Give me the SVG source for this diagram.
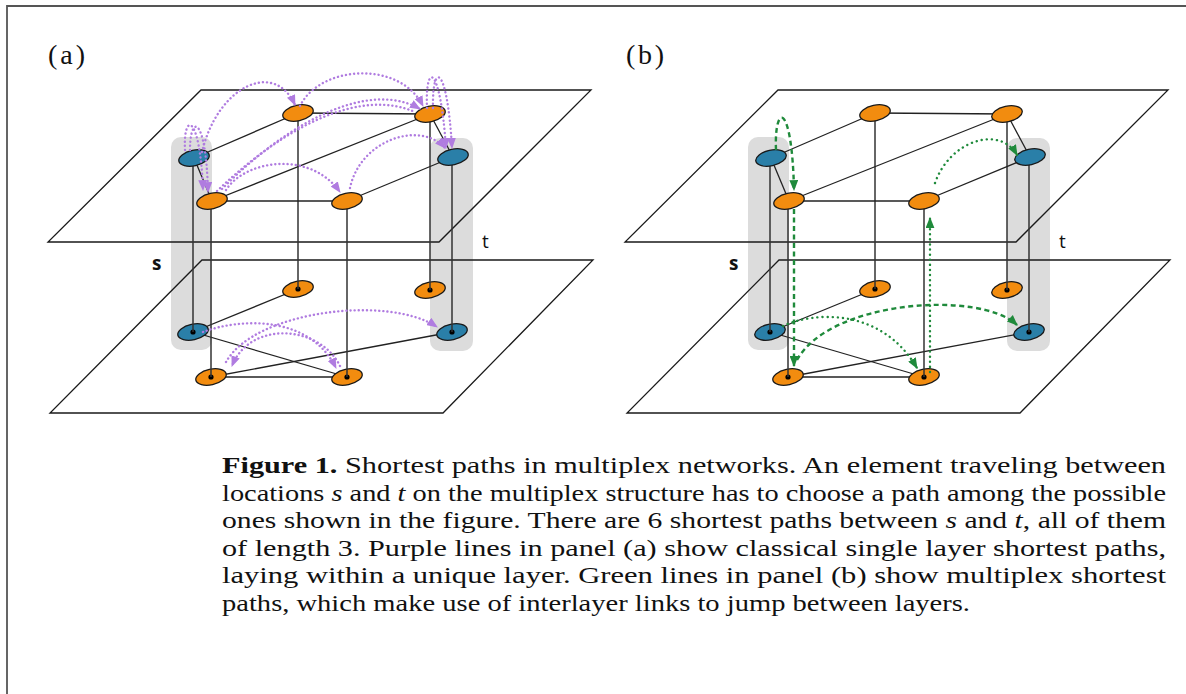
<svg xmlns="http://www.w3.org/2000/svg" width="1186" height="694" viewBox="0 0 1186 694">
<defs>
<style>
.plane{fill:none;stroke:#1a1a1a;stroke-width:1.3}
.col{fill:#dcdcdc;stroke:none}
.edge{stroke:#222;stroke-width:1.3;fill:none}
.vert{stroke:#333;stroke-width:1.5;fill:none}
.or{fill:#f28c0f;stroke:#1a1a1a;stroke-width:1.3}
.bl{fill:#2a7fa8;stroke:#1a1a1a;stroke-width:1.3}
.dot{fill:#000}
.pur{fill:none;stroke:#b07ce0;stroke-width:2.4;stroke-dasharray:0.1 4;stroke-linecap:round}
.gdash{fill:none;stroke:#1f8a3b;stroke-width:2.4;stroke-dasharray:5 3.5}
.gdot{fill:none;stroke:#1f8a3b;stroke-width:2.4;stroke-dasharray:0.1 5;stroke-linecap:round}
.lbl{font-family:"Open Sans","DejaVu Sans",sans-serif;font-size:19px;fill:#111}
.panel{font-family:"Liberation Serif","Times New Roman",serif;font-size:28px;fill:#111}
.cap{font-family:"Liberation Serif","Times New Roman",serif;font-size:24px;fill:#111}
</style>
<marker id="ap" viewBox="0 0 10 8" refX="9" refY="4" markerWidth="11" markerHeight="9" markerUnits="userSpaceOnUse" orient="auto">
<path d="M0,0 L10,4 L0,8 z" fill="#b07ce0"/>
</marker>
<marker id="ag" viewBox="0 0 10 8" refX="9" refY="4" markerWidth="11" markerHeight="9" markerUnits="userSpaceOnUse" orient="auto">
<path d="M0,0 L10,4 L0,8 z" fill="#1f8a3b"/>
</marker>
</defs>
<rect width="1186" height="694" fill="#fff"/>
<path d="M7,694 V6 H1186" fill="none" stroke="#555" stroke-width="1.8"/>

<text class="panel" x="48" y="64" textLength="37">(a)</text>
<text class="panel" x="626" y="64" textLength="38">(b)</text>

<!-- PANEL A -->
<g id="panel-a">
<g id="a-columns">
<rect class="col" x="171" y="137" width="41" height="213" rx="10"/>
<rect class="col" x="430" y="138" width="43" height="213" rx="10"/>
</g>
<g id="a-planes">
<polygon class="plane" points="201,90 591,90 439,242 48,242"/>
<polygon class="plane" points="202,260 593,260 443,413 50,413"/>
</g>
<text class="lbl" x="152" y="270" font-weight="bold">s</text>
<text class="lbl" x="482" y="248">t</text>
<g id="a-edges-bottom">
<line class="edge" x1="193" y1="332" x2="298" y2="289"/>
<line class="edge" x1="193" y1="332" x2="347" y2="377"/>
<line class="edge" x1="211" y1="377" x2="347" y2="377"/>
<line class="edge" x1="211" y1="377" x2="452" y2="332"/>
</g>
<g id="a-s-bot"><ellipse class="bl" cx="193" cy="332" rx="15.5" ry="7.8" transform="rotate(-12 193 332)"/><circle class="dot" cx="193" cy="332" r="2.6"/></g>
<g id="a-A-bot"><ellipse class="or" cx="211" cy="377" rx="15.5" ry="7.8" transform="rotate(-12 211 377)"/><circle class="dot" cx="211" cy="377" r="2.6"/></g>
<g id="a-B-bot"><ellipse class="or" cx="298" cy="289" rx="15.5" ry="7.8" transform="rotate(-12 298 289)"/><circle class="dot" cx="298" cy="289" r="2.6"/></g>
<g id="a-C-bot"><ellipse class="or" cx="430" cy="290" rx="15.5" ry="7.8" transform="rotate(-12 430 290)"/><circle class="dot" cx="430" cy="290" r="2.6"/></g>
<g id="a-D-bot"><ellipse class="or" cx="347" cy="377" rx="15.5" ry="7.8" transform="rotate(-12 347 377)"/><circle class="dot" cx="347" cy="377" r="2.6"/></g>
<g id="a-t-bot"><ellipse class="bl" cx="452" cy="332" rx="15.5" ry="7.8" transform="rotate(-12 452 332)"/><circle class="dot" cx="452" cy="332" r="2.6"/></g>
<g id="a-interlayer">
<line class="vert" x1="193" y1="158" x2="193" y2="332"/>
<line class="vert" x1="211" y1="201" x2="211" y2="377"/>
<line class="vert" x1="298" y1="113" x2="298" y2="289"/>
<line class="vert" x1="430" y1="114" x2="430" y2="290"/>
<line class="vert" x1="452" y1="157" x2="452" y2="332"/>
<line class="vert" x1="347" y1="201" x2="347" y2="377"/>
</g>
<g id="a-edges-top">
<line class="edge" x1="194" y1="158" x2="298" y2="113"/>
<line class="edge" x1="194" y1="158" x2="212" y2="201"/>
<line class="edge" x1="212" y1="201" x2="347" y2="201"/>
<line class="edge" x1="212" y1="201" x2="430" y2="114"/>
<line class="edge" x1="298" y1="113" x2="430" y2="114"/>
<line class="edge" x1="430" y1="114" x2="453" y2="157"/>
<line class="edge" x1="347" y1="201" x2="453" y2="157"/>
</g>
<g id="a-s-top"><ellipse class="bl" cx="194" cy="158" rx="15.5" ry="7.8" transform="rotate(-12 194 158)"/></g>
<g id="a-A-top"><ellipse class="or" cx="212" cy="201" rx="15.5" ry="7.8" transform="rotate(-12 212 201)"/></g>
<g id="a-B-top"><ellipse class="or" cx="298" cy="113" rx="15.5" ry="7.8" transform="rotate(-12 298 113)"/></g>
<g id="a-C-top"><ellipse class="or" cx="430" cy="114" rx="15.5" ry="7.8" transform="rotate(-12 430 114)"/></g>
<g id="a-D-top"><ellipse class="or" cx="347" cy="201" rx="15.5" ry="7.8" transform="rotate(-12 347 201)"/></g>
<g id="a-t-top"><ellipse class="bl" cx="453" cy="157" rx="15.5" ry="7.8" transform="rotate(-12 453 157)"/></g>
<g id="a-paths">
<path class="pur" d="M202,152 C218,85 275,60 295,105" marker-end="url(#ap)"/>
<path class="pur" d="M300,106 C320,65 400,60 423,106" marker-end="url(#ap)"/>
<path class="pur" d="M185,150 C183,112 200,112 203,190" marker-end="url(#ap)"/>
<path class="pur" d="M190,150 C190,114 206,114 208,192" marker-end="url(#ap)"/>
<path class="pur" d="M222,189 C290,120 370,80 420,109" marker-end="url(#ap)"/>
<path class="pur" d="M217,191 C285,126 360,88 415,112"/>
<path class="pur" d="M226,190 C245,160 310,150 340,192" marker-end="url(#ap)"/>
<path class="pur" d="M350,188 C360,140 420,120 445,148" marker-end="url(#ap)"/>
<path class="pur" d="M427,108 C425,62 440,62 446,148" marker-end="url(#ap)"/>
<path class="pur" d="M433,108 C432,62 447,62 452,148" marker-end="url(#ap)"/>
<path class="pur" d="M203,332 C240,318 310,315 336,368" marker-end="url(#ap)"/>
<path class="pur" d="M340,366 C320,325 250,320 232,366" marker-end="url(#ap)"/>
<path class="pur" d="M226,362 C255,310 390,295 437,327" marker-end="url(#ap)"/>
</g>
</g>

<!-- PANEL B -->
<g id="panel-b">
<g transform="translate(577,0)">
<g id="b-columns">
<rect class="col" x="171" y="137" width="41" height="213" rx="10"/>
<rect class="col" x="430" y="138" width="43" height="213" rx="10"/>
</g>
<g id="b-planes">
<polygon class="plane" points="201,90 591,90 439,242 48,242"/>
<polygon class="plane" points="202,260 593,260 443,413 50,413"/>
</g>
<text class="lbl" x="152" y="270" font-weight="bold">s</text>
<text class="lbl" x="482" y="248">t</text>
<g id="b-edges-bottom">
<line class="edge" x1="193" y1="332" x2="298" y2="289"/>
<line class="edge" x1="193" y1="332" x2="347" y2="377"/>
<line class="edge" x1="211" y1="377" x2="347" y2="377"/>
<line class="edge" x1="211" y1="377" x2="452" y2="332"/>
</g>
<g id="b-s-bot"><ellipse class="bl" cx="193" cy="332" rx="15.5" ry="7.8" transform="rotate(-12 193 332)"/><circle class="dot" cx="193" cy="332" r="2.6"/></g>
<g id="b-A-bot"><ellipse class="or" cx="211" cy="377" rx="15.5" ry="7.8" transform="rotate(-12 211 377)"/><circle class="dot" cx="211" cy="377" r="2.6"/></g>
<g id="b-B-bot"><ellipse class="or" cx="298" cy="289" rx="15.5" ry="7.8" transform="rotate(-12 298 289)"/><circle class="dot" cx="298" cy="289" r="2.6"/></g>
<g id="b-C-bot"><ellipse class="or" cx="430" cy="290" rx="15.5" ry="7.8" transform="rotate(-12 430 290)"/><circle class="dot" cx="430" cy="290" r="2.6"/></g>
<g id="b-D-bot"><ellipse class="or" cx="347" cy="377" rx="15.5" ry="7.8" transform="rotate(-12 347 377)"/><circle class="dot" cx="347" cy="377" r="2.6"/></g>
<g id="b-t-bot"><ellipse class="bl" cx="452" cy="332" rx="15.5" ry="7.8" transform="rotate(-12 452 332)"/><circle class="dot" cx="452" cy="332" r="2.6"/></g>
<g id="b-interlayer">
<line class="vert" x1="193" y1="158" x2="193" y2="332"/>
<line class="vert" x1="211" y1="201" x2="211" y2="377"/>
<line class="vert" x1="298" y1="113" x2="298" y2="289"/>
<line class="vert" x1="430" y1="114" x2="430" y2="290"/>
<line class="vert" x1="452" y1="157" x2="452" y2="332"/>
<line class="vert" x1="347" y1="201" x2="347" y2="377"/>
</g>
<g id="b-edges-top">
<line class="edge" x1="194" y1="158" x2="298" y2="113"/>
<line class="edge" x1="194" y1="158" x2="212" y2="201"/>
<line class="edge" x1="212" y1="201" x2="347" y2="201"/>
<line class="edge" x1="212" y1="201" x2="430" y2="114"/>
<line class="edge" x1="298" y1="113" x2="430" y2="114"/>
<line class="edge" x1="430" y1="114" x2="453" y2="157"/>
<line class="edge" x1="347" y1="201" x2="453" y2="157"/>
</g>
<g id="b-s-top"><ellipse class="bl" cx="194" cy="158" rx="15.5" ry="7.8" transform="rotate(-12 194 158)"/></g>
<g id="b-A-top"><ellipse class="or" cx="212" cy="201" rx="15.5" ry="7.8" transform="rotate(-12 212 201)"/></g>
<g id="b-B-top"><ellipse class="or" cx="298" cy="113" rx="15.5" ry="7.8" transform="rotate(-12 298 113)"/></g>
<g id="b-C-top"><ellipse class="or" cx="430" cy="114" rx="15.5" ry="7.8" transform="rotate(-12 430 114)"/></g>
<g id="b-D-top"><ellipse class="or" cx="347" cy="201" rx="15.5" ry="7.8" transform="rotate(-12 347 201)"/></g>
<g id="b-t-top"><ellipse class="bl" cx="453" cy="157" rx="15.5" ry="7.8" transform="rotate(-12 453 157)"/></g>
</g>
<g id="b-paths">
<path class="gdash" d="M776,150 C774,103 792,100 794,190" marker-end="url(#ag)"/>
<path class="gdash" d="M794,209 L794,366" marker-end="url(#ag)"/>
<path class="gdash" d="M797,360 C830,300 980,290 1017,325" marker-end="url(#ag)"/>
<path class="gdot" d="M783,326 C810,313 880,305 917,368" marker-end="url(#ag)"/>
<path class="gdot" d="M930,372 L930,218" marker-end="url(#ag)"/>
<path class="gdot" d="M935,183 C950,140 1000,125 1017,155" marker-end="url(#ag)"/>
</g>
</g>

<g id="caption">
<text class="cap" x="222" y="473" textLength="944" lengthAdjust="spacingAndGlyphs"><tspan font-weight="bold">Figure 1.</tspan> Shortest paths in multiplex networks. An element traveling between</text>
<text class="cap" x="222" y="500.5" textLength="944" lengthAdjust="spacingAndGlyphs">locations <tspan font-style="italic">s</tspan> and <tspan font-style="italic">t</tspan> on the multiplex structure has to choose a path among the possible</text>
<text class="cap" x="222" y="528" textLength="944" lengthAdjust="spacingAndGlyphs">ones shown in the figure. There are 6 shortest paths between <tspan font-style="italic">s</tspan> and <tspan font-style="italic">t</tspan>, all of them</text>
<text class="cap" x="222" y="555.5" textLength="944" lengthAdjust="spacingAndGlyphs">of length 3. Purple lines in panel (a) show classical single layer shortest paths,</text>
<text class="cap" x="222" y="583" textLength="944" lengthAdjust="spacingAndGlyphs">laying within a unique layer. Green lines in panel (b) show multiplex shortest</text>
<text class="cap" x="222" y="610.5" textLength="748" lengthAdjust="spacingAndGlyphs">paths, which make use of interlayer links to jump between layers.</text>
</g>
</svg>
